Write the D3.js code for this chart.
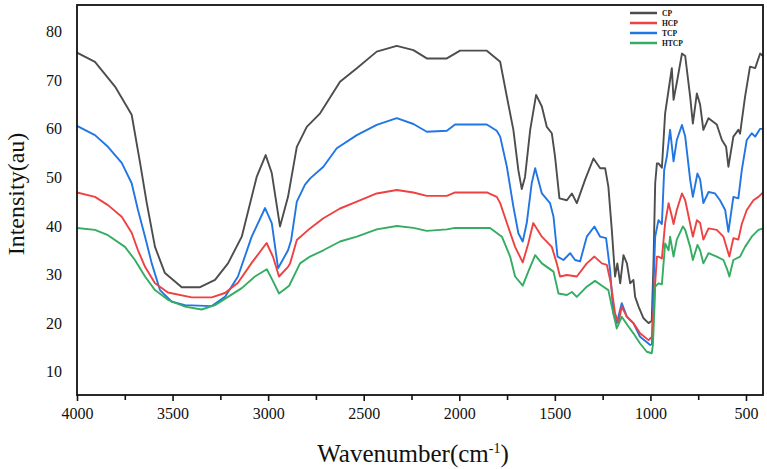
<!DOCTYPE html>
<html><head><meta charset="utf-8">
<script src="https://cdn.jsdelivr.net/npm/d3@7"></script>
<style>body{margin:0;background:#fff}svg{display:block}</style>
</head><body><svg id="c" width="767" height="469"></svg>
<script>
const seriesNames = ["CP","HCP","TCP","HTCP"];
const seriesColors = ["#4d4d4d","#ee4242","#2176e4","#34ad62"];
const xTickValues = [4000,3500,3000,2500,2000,1500,1000,500];
const xMinorTicks = [3750,3250,2750,2250,1750,1250,750];
const yTickValues = [10,20,30,40,50,60,70,80];

const cpWave = [4000,3906,3801,3714,3670,3635,3592,3540,3452,3356,3278,3210,3138,3060,3013,2981,2938,2896,2850,2798,2728,2624,2536,2432,2327,2240,2170,2065,1996,1856,1786,1751,1717,1691,1673,1656,1629,1598,1568,1542,1516,1499,1476,1437,1411,1385,1342,1298,1263,1237,1220,1202,1185,1173,1158,1141,1123,1106,1089,1080,1062,1036,1010,993,984,975,966,958,940,923,905,888,879,862,835,818,792,778,757,740,723,696,653,626,604,592,566,540,531,505,479,452,426,411];
const cpVal  = [75.7,73.8,68.7,62.9,53,44.7,35.7,30.3,27.4,27.4,28.9,32.3,37.8,50.1,54.6,50.9,39.9,46,56.3,60.4,63.2,69.7,72.5,75.9,77.1,76.2,74.5,74.5,76.1,76.1,73.8,66.6,59.8,51.5,47.6,50.1,59.8,67,64.6,60.4,59.1,54.3,45.7,45.3,46.7,44.7,49.5,53.9,51.9,51.9,48.1,39.2,29.6,32.3,28.2,34,32.3,28.2,28.9,25.4,23.4,21,20,20.5,32.3,48.8,52.9,52.9,52,63.2,68,72.5,66,69.5,75.5,75,66.6,61.1,67.3,65,59.8,62.2,60.9,57.7,56.3,52.2,58.4,59.8,59,66.6,72.8,72.5,75.5,75];

const hcpWave = [4000,3906,3838,3766,3714,3681,3644,3592,3524,3400,3295,3226,3158,3086,3008,2975,2943,2896,2885,2850,2781,2711,2624,2536,2432,2327,2240,2170,2065,2022,1856,1804,1786,1751,1708,1668,1639,1613,1568,1516,1490,1473,1437,1385,1333,1293,1254,1228,1207,1185,1167,1150,1123,1089,1054,1010,992,980,966,958,940,923,905,888,879,862,835,818,792,778,757,740,723,696,653,618,597,587,566,540,522,496,461,435,411];
const hcpVal  = [46.9,46,44.3,41.9,38.6,35,31.6,28.2,26.3,25.3,25.3,26.2,28.3,32.4,36.5,33.7,29.6,31.6,32.3,37.1,39.5,41.6,43.6,45,46.7,47.4,46.9,46.2,46.2,46.9,46.9,46,44.7,40.6,35.7,32.5,36.4,40.6,37.8,35.7,32.3,29.6,29.9,29.6,32.3,33.7,32.3,32,28.2,22,20,23.4,21.3,20,17.9,16.5,17.2,25.4,33.7,33.7,33.3,40.6,44.7,42,40.4,43.3,46.7,45.3,40.4,37.8,41.2,40.6,37.2,39.5,39.2,37.8,35,33.7,37.5,37.2,40.4,43.3,45.3,46,46.9];

const tcpWave = [4000,3906,3838,3766,3714,3681,3644,3609,3566,3504,3435,3295,3226,3158,3086,3016,2981,2948,2896,2880,2850,2807,2780,2711,2641,2536,2432,2327,2240,2170,2065,2022,1856,1804,1786,1751,1717,1691,1668,1647,1621,1603,1568,1525,1507,1486,1455,1420,1394,1368,1333,1293,1263,1232,1211,1194,1176,1150,1123,1089,1054,1001,992,980,975,958,940,928,914,897,879,862,835,818,792,778,754,740,723,696,662,636,609,592,566,540,522,496,470,452,426,411];
const tcpVal  = [60.6,58.7,56.3,53,48.8,43.3,37.8,32.3,26.8,24.4,23.7,23.5,25.4,29.6,37.8,43.7,40.6,31.3,35,37,45,48.5,49.8,52.2,56,58.7,60.8,62.2,61,59.4,59.6,60.9,60.9,59.6,58.4,52.2,44,38.5,36.8,40.6,48.8,51.9,46.7,44.7,41.9,33.7,33,34.4,33,32.7,37.8,39.9,37.8,37.5,30.9,22,20,24.1,21.3,20,17.2,15.5,15.7,32.3,37.8,41.2,40.4,51.5,54.3,59.8,53.3,57.7,60.8,58.4,49.5,46,50.8,49.6,44.7,47,46.7,45.3,43.3,38.8,46,45.7,51.5,57.7,59.1,58.4,60,60];

const htcpWave = [4000,3906,3838,3749,3697,3644,3592,3524,3435,3348,3278,3210,3138,3069,3007,2978,2943,2890,2833,2781,2711,2624,2536,2432,2327,2240,2170,2065,2022,1839,1777,1734,1708,1668,1639,1603,1568,1507,1481,1437,1411,1385,1333,1290,1246,1220,1202,1176,1150,1115,1089,1054,1019,993,987,978,975,958,940,923,905,897,879,862,830,818,792,778,754,740,723,696,653,618,597,587,566,531,505,470,435,411];
const htcpVal  = [39.6,39.2,38.1,35.7,33,29.6,26.8,24.8,23.4,22.8,23.7,25.4,27.2,29.6,31.1,28.9,26.1,27.7,32.3,33.7,35,36.8,37.8,39.3,40,39.6,39,39.3,39.6,39.6,37.8,33.7,29.6,27.7,30.6,34,32.3,30.6,26.1,25.8,26.4,25.4,27.5,28.7,27.5,26.8,23.4,18.9,21.3,19.3,17.9,15.8,14.1,13.8,15.5,24,27.5,28.2,28,36.4,35,37.8,33.7,37.2,39.9,39.2,35.7,33,36.1,35,32.3,34.4,33.7,33,30.9,29.6,33,33.7,35.7,37.8,39.2,39.5];

const allWaves = [cpWave,hcpWave,tcpWave,htcpWave];
const allVals = [cpVal,hcpVal,tcpVal,htcpVal];

const L=77, R=763, T=5, B=395;
const svg = d3.select("#c");
const x = d3.scaleLinear().domain([4000,411]).range([L,R]);
const y = d3.scaleLinear().domain([5.2,85.5]).range([B,T]);
const font = "'Liberation Serif','Times New Roman',Times,serif";

const line = d3.line().x(d=>x(d[0])).y(d=>y(d[1])).curve(d3.curveLinear);
svg.append("clipPath").attr("id","pc").append("rect").attr("x",L).attr("y",T).attr("width",R-L).attr("height",B-T);
const g = svg.append("g").attr("clip-path","url(#pc)");
[0,2,1,3].forEach(i=>{
  const data = allWaves[i].map((w,k)=>[w,allVals[i][k]]);
  g.append("path").datum(data).attr("d",line).attr("fill","none")
   .attr("stroke",seriesColors[i]).attr("stroke-width",1.9).attr("stroke-linejoin","round");
});

// frame
svg.append("rect").attr("x",L).attr("y",T).attr("width",R-L).attr("height",B-T)
  .attr("fill","none").attr("stroke","#111").attr("stroke-width",1.8);

// x axis
const xa = svg.append("g").attr("transform",`translate(0,${B})`)
  .call(d3.axisBottom(x).tickValues(xTickValues).tickSize(6).tickPadding(7).tickFormat(d3.format("d")));
xa.select(".domain").remove();
xa.selectAll("line").attr("stroke","#111").attr("stroke-width",1.6);
xa.selectAll("text").attr("font-family",font).attr("font-size",16).attr("fill","#111");
const xm = svg.append("g").attr("transform",`translate(0,${B})`)
  .call(d3.axisBottom(x).tickValues(xMinorTicks).tickSize(5).tickFormat(""));
xm.select(".domain").remove();
xm.selectAll("line").attr("stroke","#111").attr("stroke-width",1.6);

// y axis
const ya = svg.append("g").attr("transform",`translate(${L},0)`)
  .call(d3.axisLeft(y).tickValues(yTickValues).tickSize(0).tickPadding(15));
ya.select(".domain").remove();
ya.selectAll("text").attr("font-family",font).attr("font-size",16).attr("fill","#111");

// titles
svg.append("text").attr("transform","translate(24,194) rotate(-90)").attr("text-anchor","middle")
  .attr("font-family",font).attr("font-size",24).attr("fill","#111").text("Intensity(au)");
const xt = svg.append("text").attr("x",413).attr("y",462).attr("text-anchor","middle")
  .attr("font-family",font).attr("font-size",25).attr("fill","#111");
xt.append("tspan").text("Wavenumber(cm");
xt.append("tspan").attr("dy",-9).attr("font-size",14).text("-1");
xt.append("tspan").attr("dy",9).text(")");

// legend
const lg = svg.append("g");
seriesNames.forEach((n,i)=>{
  const yy = 13 + i*10;
  lg.append("line").attr("x1",630).attr("x2",657).attr("y1",yy).attr("y2",yy)
    .attr("stroke",seriesColors[i]).attr("stroke-width",2.5);
  lg.append("text").attr("x",662).attr("y",yy+2.5).attr("font-family",font)
    .attr("font-size",7.5).attr("font-weight","bold").attr("fill","#111").text(n);
});
</script></body></html>
